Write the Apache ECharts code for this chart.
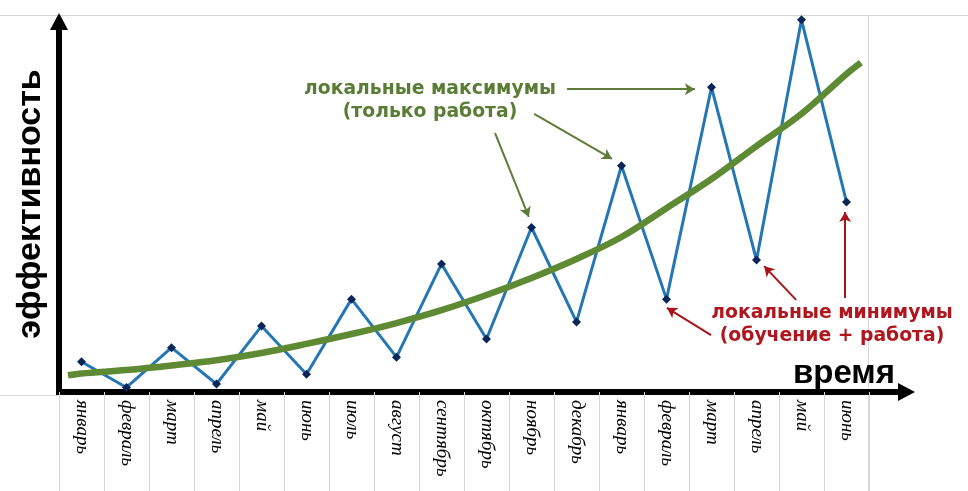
<!DOCTYPE html>
<html><head><meta charset="utf-8">
<script src="https://cdn.jsdelivr.net/npm/echarts@6/dist/echarts.min.js"></script>
<style>html,body{margin:0;padding:0;background:#fff}#c{width:968px;height:491px}</style>
</head><body><div id="c"></div>
<script>
// ---- data ----
const months = ['январь','февраль','март','апрель','май','июнь','июль','август','сентябрь','октябрь','ноябрь','декабрь','январь','февраль','март','апрель','май','июнь'];
const efficiency = [8.0, 1.2, 11.7, 2.1, 17.4, 4.7, 24.5, 9.2, 33.8, 14.0, 43.4, 18.5, 59.7, 24.5, 80.4, 34.8, 98.2, 50.1];
// trend curve (x in month index units, y in the same units as efficiency)
const trendX = [-0.3, 0, 1, 2, 3, 4, 5, 6, 7, 8, 9, 10, 11, 12, 13, 14, 15, 16, 17, 17.32];
const trendY = [4.4, 4.9, 5.8, 7.0, 8.4, 10.3, 12.7, 15.3, 18.2, 21.6, 25.6, 30.1, 35.1, 40.9, 48.5, 56.2, 64.9, 73.4, 83.9, 86.9];
// annotation arrows [from, to] in (month index, value)
const maxArrows = [[[10.79, 79.9], [13.63, 79.9]], [[10.06, 73.4], [11.79, 61.5]], [[9.19, 68.3], [9.94, 46.2]]];
const minArrows = [[[13.99, 15.0], [13.01, 22.2]], [[15.88, 24.3], [15.17, 33.2]], [[16.97, 24.8], [16.97, 47.5]]];
const yTitle = 'эффективность';
const xTitle = 'время';
const maxLabel = ['локальные максимумы', '(только работа)'];
const minLabel = ['локальные минимумы', '(обучение + работа)'];

const GREEN = '#5E8A33', GREEN_T = '#5A7C35', RED = '#B0161E', GRAY = '#d6d6d6';
const chart = echarts.init(document.getElementById('c'), null, {renderer: 'canvas'});
const axisArrowLine = {show: true, onZero: false, symbol: ['none', 'triangle'], symbolSize: [18, 17],
  lineStyle: {color: '#000', width: 6, cap: 'square'}};
const toLines = (arr) => arr.map(a => [{coord: a[0]}, {coord: a[1]}]);

chart.setOption({
  animation: false,
  backgroundColor: '#fff',
  grid: [
    {left: 59, right: 99, top: 13, bottom: 99},
    {left: 59, right: 61.5, top: 21.5, bottom: 99}
  ],
  xAxis: [
    {type: 'category', gridIndex: 0, data: months, boundaryGap: true,
     axisLine: {show: false},
     axisTick: {show: true, interval: 0, length: 99, lineStyle: {color: GRAY, width: 1}},
     axisLabel: {interval: 0, rotate: -90, margin: 8, color: '#000', fontFamily: '"Liberation Serif", serif',
       fontStyle: 'italic', fontSize: 19, padding: [0, 0, 8, 0]},
     splitLine: {show: false}},
    {type: 'value', gridIndex: 0, min: -0.5, max: 17.5, show: false},
    {type: 'value', gridIndex: 1, min: 0, max: 1, axisLine: axisArrowLine,
     axisTick: {show: false}, axisLabel: {show: false}, splitLine: {show: false}}
  ],
  yAxis: [
    {type: 'value', gridIndex: 0, min: 0, max: 100, show: false},
    {type: 'value', gridIndex: 1, min: 0, max: 1, axisLine: axisArrowLine,
     axisTick: {show: false}, axisLabel: {show: false}, splitLine: {show: false}}
  ],
  series: [
    {type: 'line', xAxisIndex: 0, yAxisIndex: 0, data: efficiency, z: 3,
     symbol: 'diamond', symbolSize: 9, showAllSymbol: true,
     itemStyle: {color: '#0B2559'}, lineStyle: {color: '#2577B4', width: 3}},
    {type: 'line', xAxisIndex: 1, yAxisIndex: 0, z: 4,
     data: trendX.map((x, i) => [x, trendY[i]]), smooth: 0.35, showSymbol: false,
     lineStyle: {color: GREEN, width: 6.5},
     markLine: {silent: true, symbol: ['none', 'arrow'], symbolSize: [9, 10], label: {show: false},
       lineStyle: {color: '#5F7B3A', width: 2, type: 'solid'}, itemStyle: {color: '#5F7B3A'},
       data: toLines(maxArrows)}},
    {type: 'line', xAxisIndex: 1, yAxisIndex: 0, data: [], z: 4,
     markLine: {silent: true, symbol: ['none', 'arrow'], symbolSize: [9, 10], label: {show: false},
       lineStyle: {color: '#A8141A', width: 2, type: 'solid'}, itemStyle: {color: '#A8141A'},
       data: toLines(minArrows)}}
  ],
  graphic: [
    {type: 'line', silent: true, z: -10, shape: {x1: 0, y1: 15.5, x2: 968, y2: 15.5}, style: {stroke: GRAY, lineWidth: 1}},
    {type: 'line', silent: true, z: -10, shape: {x1: 868.5, y1: 15, x2: 868.5, y2: 491}, style: {stroke: GRAY, lineWidth: 1}},
    {type: 'line', silent: true, z: -10, shape: {x1: 0, y1: 395.5, x2: 58, y2: 395.5}, style: {stroke: GRAY, lineWidth: 1}},
    {type: 'text', x: 31, y: 204, rotation: Math.PI / 2,
     style: {text: yTitle, font: 'bold 34px "Liberation Sans", Arial, sans-serif', fill: '#000', align: 'center', verticalAlign: 'middle'}},
    {type: 'text', x: 895, y: 374,
     style: {text: xTitle, font: 'bold 33px "Liberation Sans", Arial, sans-serif', fill: '#000', align: 'right', verticalAlign: 'middle'}},
    {type: 'text', x: 430, y: 101,
     style: {text: maxLabel.join('\n'), font: 'bold 18.8px "DejaVu Sans", sans-serif', lineHeight: 23, fill: GREEN_T, align: 'center', verticalAlign: 'middle'}},
    {type: 'text', x: 832, y: 325,
     style: {text: minLabel.join('\n'), font: 'bold 18.8px "DejaVu Sans", sans-serif', lineHeight: 23, fill: RED, align: 'center', verticalAlign: 'middle'}}
  ]
});
</script>
</body></html>
